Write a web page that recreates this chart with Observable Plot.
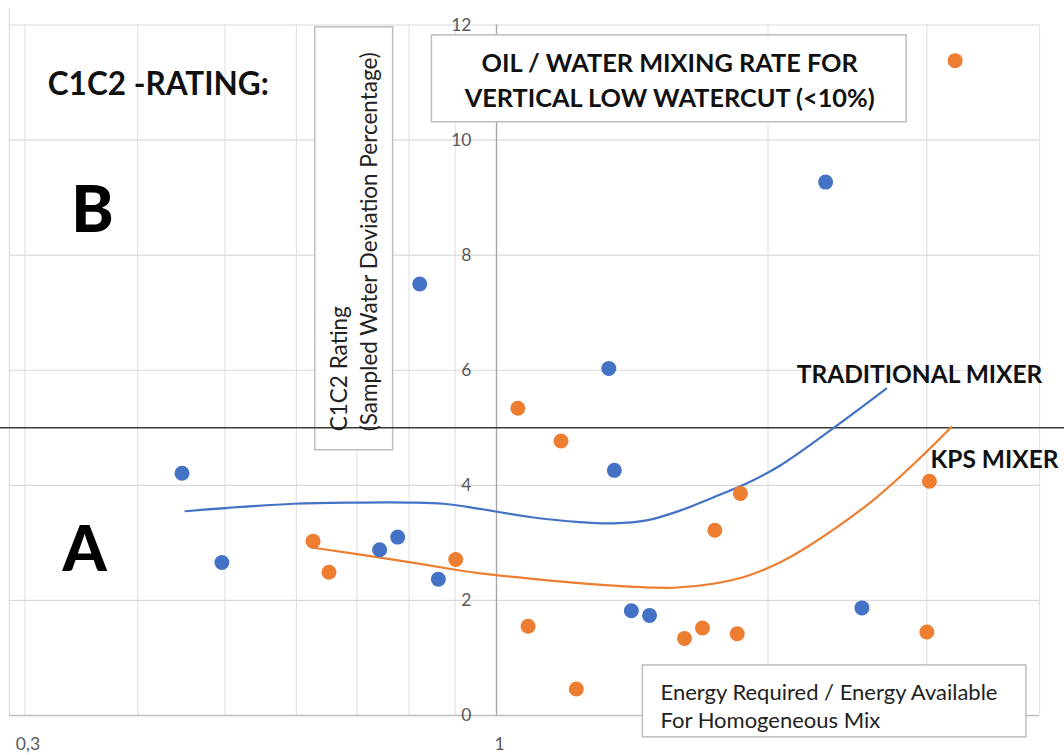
<!DOCTYPE html>
<html>
<head>
<meta charset="utf-8">
<script src="https://cdn.jsdelivr.net/npm/d3@7"></script>
<script src="https://cdn.jsdelivr.net/npm/@observablehq/plot@0.6"></script>
<style>
  html, body { margin: 0; padding: 0; background: #ffffff; }
  #chart svg { display: block; }
</style>
</head>
<body>
<div id="chart"></div>
<script>
// ---- Data ----
// Traditional mixer samples (blue)
const tradPointsX = [0.448, 0.496, 0.742, 0.777, 0.862, 0.822, 1.332, 1.351, 1.411, 1.478, 2.317, 2.542];
const tradPointsY = [4.21, 2.66, 2.88, 3.10, 2.37, 7.50, 6.03, 4.26, 1.82, 1.74, 9.27, 1.87];
// KPS mixer samples (orange)
const kpsPointsX = [0.626, 0.652, 0.901, 1.056, 1.084, 1.179, 1.226, 1.616, 1.692, 1.746, 1.864, 1.849, 3.02, 3.00, 3.225];
const kpsPointsY = [3.03, 2.49, 2.71, 5.34, 1.55, 4.77, 0.46, 1.34, 1.52, 3.22, 3.86, 1.42, 4.07, 1.45, 11.38];
// Smoothed trend curves
const tradCurveX = [0.452, 0.596, 0.706, 0.802, 0.873, 0.959, 1.089, 1.237, 1.347, 1.467, 1.597, 1.739, 1.893, 2.061, 2.371, 2.705];
const tradCurveY = [3.55, 3.68, 3.70, 3.70, 3.68, 3.59, 3.45, 3.36, 3.34, 3.39, 3.56, 3.79, 4.03, 4.34, 5.01, 5.68];
const kpsCurveX = [0.624, 0.768, 0.911, 0.959, 1.089, 1.237, 1.405, 1.570, 1.739, 1.893, 2.061, 2.206, 2.615, 2.969, 3.192];
const kpsCurveY = [2.92, 2.71, 2.52, 2.47, 2.38, 2.30, 2.24, 2.22, 2.29, 2.42, 2.66, 2.92, 3.74, 4.52, 5.01];
// Axis / reference values
const yTicks = [0, 2, 4, 6, 8, 10, 12];
const yGrid = [2, 4, 6, 8, 10, 12];
const xGrid = [0.3, 0.4, 0.5, 0.6, 0.7, 0.8, 0.9, 2, 3, 4];
const xLabelValues = [0.3, 1];
const xLabelTexts = ["0,3", "1"];
const thresholdY = [5];
const seriesNames = ["TRADITIONAL MIXER", "KPS MIXER"];

// ---- Tables built from the arrays ----
const tradPoints = tradPointsX.map((x, i) => ({x, y: tradPointsY[i]}));
const kpsPoints = kpsPointsX.map((x, i) => ({x, y: kpsPointsY[i]}));
const tradCurve = tradCurveX.map((x, i) => ({x, y: tradCurveY[i]}));
const kpsCurve = kpsCurveX.map((x, i) => ({x, y: kpsCurveY[i]}));
const xLabels = xLabelValues.map((x, i) => ({x, t: xLabelTexts[i]}));

// ---- Styling / annotation placement (data units) ----
const BLUE = "#4472C4", ORANGE = "#ED7D31";
const FONT = "Lato, 'Open Sans', sans-serif";
const xDomain = [0.2884, 4];
const boxes = [
  {x1: 0.848, x2: 2.849, y1: 10.31, y2: 11.82},  // title
  {x1: 0.6295, x2: 0.768, y1: 4.61, y2: 11.96},  // vertical y label
  {x1: 1.453, x2: 3.869, y1: -0.38, y2: 0.87}    // x label
];

const chart = Plot.plot({
  width: 1064,
  height: 755,
  marginLeft: 9,
  marginRight: 25,
  marginTop: 24.5,
  marginBottom: 40,
  style: {fontFamily: FONT, background: "#ffffff", overflow: "visible"},
  x: {type: "log", domain: xDomain, axis: null},
  y: {domain: [0, 12], axis: null},
  marks: [
    // plot-area left border
    Plot.ruleX([xDomain[0]], {y1: 0, y2: 12.29, stroke: "#d9d9d9", strokeWidth: 1.2}),
    // gridlines
    Plot.ruleX(xGrid, {stroke: "#e4e4e4", strokeWidth: 1.2}),
    Plot.ruleY(yGrid, {stroke: "#d9d9d9", strokeWidth: 1.2}),
    // axes lines
    Plot.ruleY([0], {stroke: "#bfbfbf", strokeWidth: 1.6}),
    Plot.ruleX([1], {stroke: "#a6a6a6", strokeWidth: 1.4}),
    // y tick labels at x = 1
    Plot.text(yTicks, {x: () => 1, y: d => d, text: d => String(d), dx: -25, textAnchor: "end",
      fill: "#595959", fontSize: 17.5}),
    // x tick labels
    Plot.text(xLabels, {x: "x", y: () => 0, text: "t", dy: 29, dx: 3, fill: "#595959", fontSize: 17.5}),
    // annotation boxes
    Plot.rect(boxes, {x1: "x1", x2: "x2", y1: "y1", y2: "y2", fill: "#ffffff", stroke: "#bdbdbd", strokeWidth: 1.5}),
    // threshold line A/B
    Plot.ruleY(thresholdY, {x1: () => 0.28, x2: () => 4.4, stroke: "#3a3a3a", strokeWidth: 1.5}),
    // trend curves
    Plot.line(tradCurve, {x: "x", y: "y", stroke: BLUE, strokeWidth: 2.2, curve: "catmull-rom"}),
    Plot.line(kpsCurve, {x: "x", y: "y", stroke: ORANGE, strokeWidth: 2.2, curve: "catmull-rom"}),
    // samples
    Plot.dot(tradPoints, {x: "x", y: "y", r: 7.5, fill: BLUE}),
    Plot.dot(kpsPoints, {x: "x", y: "y", r: 7.5, fill: ORANGE}),
    // text annotations
    Plot.text(["C1C2 -RATING:"], {x: () => 0.318, y: () => 10.96, text: d => d, textAnchor: "start",
      fontWeight: "bold", fontSize: 31.5, fill: "#111"}),
    Plot.text(["B"], {x: () => 0.3565, y: () => 8.76, text: d => d, fontWeight: "900", fontSize: 64, fill: "#000"}),
    Plot.text(["A"], {x: () => 0.3493, y: () => 2.87, text: d => d, fontWeight: "900", fontSize: 63, fill: "#000"}),
    Plot.text(["C1C2 Rating\n(Sampled Water Deviation Percentage)"], {x: () => 0.6918, y: () => 4.94, text: d => d,
      rotate: -90, textAnchor: "start", lineAnchor: "middle", lineHeight: 1.33, fontSize: 22.5, fill: "#222"}),
    Plot.text(["OIL / WATER MIXING RATE FOR\nVERTICAL LOW WATERCUT (<10%)"], {x: () => 1.556, y: () => 11.08, text: d => d,
      lineAnchor: "middle", lineHeight: 1.38, fontWeight: "bold", fontSize: 25.3, fill: "#111"}),
    Plot.text(["Energy Required / Energy Available\nFor Homogeneous Mix"], {x: () => 1.52, y: () => 0.174, text: d => d,
      textAnchor: "start", lineAnchor: "middle", lineHeight: 1.27, fontSize: 22, fill: "#222"}),
    Plot.text([seriesNames[0]], {x: () => 2.152, y: () => 5.91, text: d => d, textAnchor: "start",
      fontWeight: "bold", fontSize: 24.5, fill: "#111"}),
    Plot.text([seriesNames[1]], {x: () => 3.028, y: () => 4.43, text: d => d, textAnchor: "start",
      fontWeight: "bold", fontSize: 24.5, fill: "#111"})
  ]
});
document.getElementById("chart").appendChild(chart);
</script>
</body>
</html>
